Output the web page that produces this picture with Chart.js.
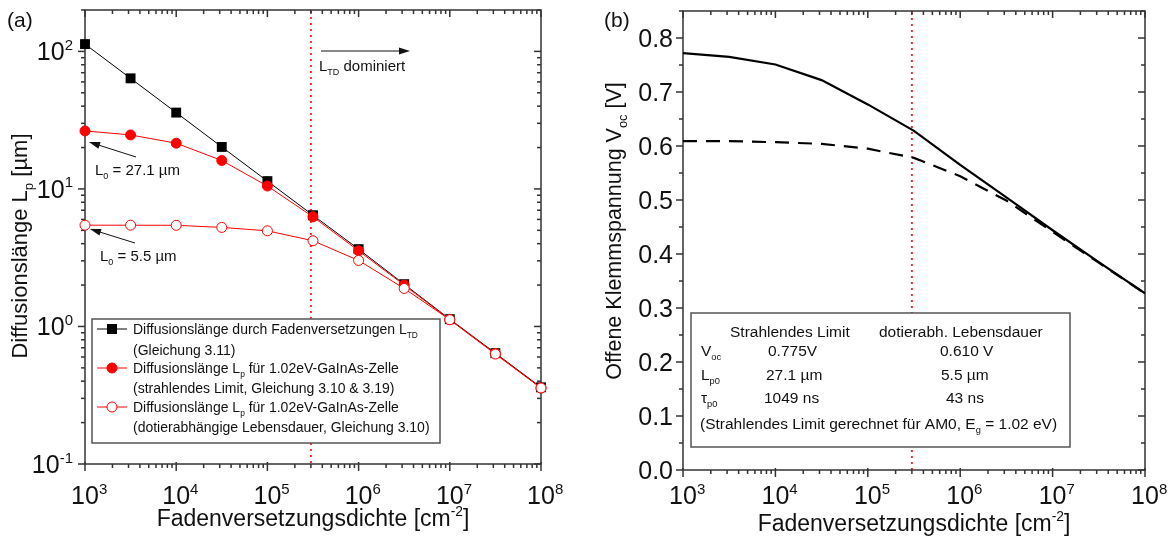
<!DOCTYPE html>
<html>
<head>
<meta charset="utf-8">
<script src="https://cdn.jsdelivr.net/npm/chart.js@4.4.1/dist/chart.umd.min.js"></script>
<style>
  html, body { margin: 0; padding: 0; background: #fff; }
  #wrap { position: relative; width: 1168px; height: 542px; }
  canvas { position: absolute; top: 0; }
  #lp { left: 0; width: 585px; height: 542px; }
  #voc { left: 585px; width: 583px; height: 542px; }
</style>
</head>
<body>
<div id="wrap">
  <canvas id="lp" width="585" height="542"></canvas>
  <canvas id="voc" width="583" height="542"></canvas>
</div>
<script>
// threading dislocation density [cm^-2], half-decade steps
const density = [1e3, 3.16e3, 1e4, 3.16e4, 1e5, 3.16e5, 1e6, 3.16e6, 1e7, 3.16e7, 1e8];

// (a) diffusion lengths [um]
const lengthTD  = [113, 63.7, 35.9, 20.2, 11.4, 6.44, 3.65, 2.03, 1.13, 0.64, 0.361];
const lengthRad = [26.4, 24.7, 21.5, 16.1, 10.5, 6.27, 3.55, 2.0, 1.12, 0.635, 0.357];
const lengthDop = [5.45, 5.45, 5.44, 5.25, 4.96, 4.2, 3.02, 1.89, 1.12, 0.63, 0.357];

// (b) open circuit voltage [V]
const vocRad = [0.772, 0.765, 0.751, 0.722, 0.677, 0.628, 0.565, 0.505, 0.444, 0.385, 0.327];
const vocDop = [0.609, 0.609, 0.607, 0.604, 0.595, 0.578, 0.544, 0.499, 0.441, 0.384, 0.327];

// axes
const xDecades = [1e3, 1e4, 1e5, 1e6, 1e7, 1e8];
const yDecadesA = [0.1, 1, 10, 100];
const yTicksB = [0, 0.1, 0.2, 0.3, 0.4, 0.5, 0.6, 0.7, 0.8];
const tdLimit = 3e5;   // above this L_TD dominates

const FONT = '"Liberation Sans", Arial, Helvetica, sans-serif';
const RED = '#ff0000';

// text with sub/superscript pieces: [[str, 'n'|'sub'|'sup'], ...]
function rich(ctx, parts, x, y, size, align) {
  let w = 0;
  const segs = parts.map(function(p) {
    const s = p[1] === 'n' ? size : size * 0.6;
    ctx.font = s + 'px ' + FONT;
    const sw = ctx.measureText(p[0]).width;
    w += sw;
    return { t: p[0], k: p[1], s: s, w: sw };
  });
  let cx = align === 'center' ? x - w / 2 : align === 'right' ? x - w : x;
  ctx.textAlign = 'left';
  ctx.textBaseline = 'alphabetic';
  segs.forEach(function(g) {
    ctx.font = g.s + 'px ' + FONT;
    const dy = g.k === 'sub' ? size * 0.28 : g.k === 'sup' ? -size * 0.42 : 0;
    ctx.fillText(g.t, cx, y + dy);
    cx += g.w;
  });
  return w;
}

function arrow(ctx, x0, y0, x1, y1) {
  const ang = Math.atan2(y1 - y0, x1 - x0), len = 11, half = 3.5;
  const c = Math.cos(ang), s = Math.sin(ang);
  ctx.beginPath();
  ctx.moveTo(x0, y0);
  ctx.lineTo(x1 - c * len * 0.8, y1 - s * len * 0.8);
  ctx.stroke();
  ctx.beginPath();
  ctx.moveTo(x1, y1);
  ctx.lineTo(x1 - c * len + s * half, y1 - s * len - c * half);
  ctx.lineTo(x1 - c * len - s * half, y1 - s * len + c * half);
  ctx.closePath();
  ctx.fill();
}

function logMinors(lo, hi) {
  const out = [];
  for (let e = Math.round(Math.log10(lo)); Math.pow(10, e) < hi; e++) {
    for (let m = 2; m <= 9; m++) {
      const v = m * Math.pow(10, e);
      if (v <= hi * 1.0001) out.push(v);
    }
  }
  return out;
}

function line(ctx, x0, y0, x1, y1) {
  ctx.beginPath();
  ctx.moveTo(x0, y0);
  ctx.lineTo(x1, y1);
  ctx.stroke();
}

// box, ticks on all four sides (out on left/bottom, in on top/right)
function drawFrame(chart, yMajor, yMinor) {
  const ctx = chart.ctx, a = chart.chartArea;
  const sx = chart.scales.x, sy = chart.scales.y;
  ctx.save();
  ctx.strokeStyle = '#333';
  ctx.lineWidth = 1.5;
  xDecades.forEach(function(v) {
    const px = sx.getPixelForValue(v);
    line(ctx, px, a.bottom - 2, px, a.bottom + 7);
    line(ctx, px, a.top, px, a.top + 7);
  });
  logMinors(1e3, 1e8).forEach(function(v) {
    const px = sx.getPixelForValue(v);
    line(ctx, px, a.bottom, px, a.bottom + 4);
    line(ctx, px, a.top, px, a.top + 4);
  });
  yMajor.forEach(function(v) {
    const py = sy.getPixelForValue(v);
    line(ctx, a.left - 7, py, a.left, py);
    line(ctx, a.right - 7, py, a.right, py);
  });
  yMinor.forEach(function(v) {
    const py = sy.getPixelForValue(v);
    line(ctx, a.left - 4, py, a.left, py);
    line(ctx, a.right - 4, py, a.right, py);
  });
  ctx.strokeRect(a.left, a.top, a.right - a.left, a.bottom - a.top);
  ctx.restore();
}

function drawXLabels(chart, baseline) {
  const ctx = chart.ctx, sx = chart.scales.x;
  ctx.save();
  ctx.fillStyle = '#111';
  xDecades.forEach(function(v) {
    const px = sx.getPixelForValue(v);
    ctx.font = '25px ' + FONT;
    const w10 = ctx.measureText('10').width;
    rich(ctx, [['10', 'n'], [String(Math.round(Math.log10(v))), 'sup']], px - w10 / 2, baseline, 25, 'left');
  });
  ctx.restore();
}

function drawLimit(chart) {
  const ctx = chart.ctx, a = chart.chartArea;
  const px = chart.scales.x.getPixelForValue(tdLimit);
  ctx.save();
  ctx.strokeStyle = '#ff2a2a';
  ctx.lineWidth = 2;
  ctx.setLineDash([2, 4]);
  line(ctx, px, a.top + 1, px, a.bottom);
  ctx.restore();
}

const lengthAxes = {
  id: 'lengthAxes',
  beforeDatasetsDraw: function(chart) {
    const ctx = chart.ctx, a = chart.chartArea, sy = chart.scales.y;
    drawLimit(chart);
    drawFrame(chart, yDecadesA, logMinors(0.1, 200));
    drawXLabels(chart, 504);
    ctx.save();
    ctx.fillStyle = '#111';
    yDecadesA.forEach(function(v) {
      const py = sy.getPixelForValue(v);
      ctx.font = '25px ' + FONT;
      const w10 = ctx.measureText('10').width;
      ctx.font = '15px ' + FONT;
      const exp = String(Math.round(Math.log10(v)));
      const we = ctx.measureText(exp).width;
      rich(ctx, [['10', 'n'], [exp, 'sup']], a.left - 12 - w10 - we, py + 9, 25, 'left');
    });
    rich(ctx, [['Fadenversetzungsdichte [cm', 'n'], ['-2', 'sup'], [']', 'n']], (a.left + a.right) / 2, 526, 23, 'center');
    ctx.translate(27, 246);
    ctx.rotate(-Math.PI / 2);
    rich(ctx, [['Diffusionslänge L', 'n'], ['p', 'sub'], [' [µm]', 'n']], 0, 0, 22, 'center');
    ctx.restore();
    ctx.save();
    ctx.fillStyle = '#111';
    rich(ctx, [['(a)', 'n']], 7, 27, 21, 'left');
    ctx.restore();
  },
  afterDatasetsDraw: function(chart) {
    const ctx = chart.ctx;
    ctx.save();
    ctx.fillStyle = '#111';
    ctx.strokeStyle = '#111';
    ctx.lineWidth = 1;
    // annotations
    arrow(ctx, 321, 51, 410, 51);
    rich(ctx, [['L', 'n'], ['TD', 'sub'], [' dominiert', 'n']], 319, 71, 15, 'left');
    arrow(ctx, 136, 157, 89, 142);
    rich(ctx, [['L', 'n'], ['0', 'sub'], [' = 27.1 µm', 'n']], 95, 175, 15, 'left');
    arrow(ctx, 135, 243, 90, 229);
    rich(ctx, [['L', 'n'], ['0', 'sub'], [' = 5.5 µm', 'n']], 100, 261, 15, 'left');

    // legend
    ctx.fillStyle = '#fff';
    ctx.fillRect(92, 319, 348, 124);
    ctx.strokeStyle = '#555';
    ctx.lineWidth = 1.5;
    ctx.strokeRect(92, 319, 348, 124);
    const rows = [
      { y: 329, color: '#000', mark: 'square' },
      { y: 368, color: RED, mark: 'dot' },
      { y: 407, color: RED, mark: 'ring' }
    ];
    rows.forEach(function(r) {
      ctx.strokeStyle = r.color;
      ctx.lineWidth = 1;
      line(ctx, 97, r.y, 127, r.y);
      ctx.beginPath();
      if (r.mark === 'square') {
        ctx.fillStyle = '#000';
        ctx.fillRect(112 - 5, r.y - 5, 10, 10);
      } else {
        ctx.arc(112, r.y, 5, 0, Math.PI * 2);
        ctx.fillStyle = r.mark === 'dot' ? RED : '#fff';
        ctx.fill();
        ctx.stroke();
      }
    });
    ctx.fillStyle = '#111';
    const tx = 133, fs = 14;
    rich(ctx, [['Diffusionslänge durch Fadenversetzungen L', 'n'], ['TD', 'sub']], tx, 334, fs, 'left');
    rich(ctx, [['(Gleichung 3.11)', 'n']], tx, 355, fs, 'left');
    rich(ctx, [['Diffusionslänge L', 'n'], ['p', 'sub'], [' für 1.02eV-GaInAs-Zelle', 'n']], tx, 373, fs, 'left');
    rich(ctx, [['(strahlendes Limit, Gleichung 3.10 & 3.19)', 'n']], tx, 393, fs, 'left');
    rich(ctx, [['Diffusionslänge L', 'n'], ['p', 'sub'], [' für 1.02eV-GaInAs-Zelle', 'n']], tx, 412, fs, 'left');
    rich(ctx, [['(dotierabhängige Lebensdauer, Gleichung 3.10)', 'n']], tx, 432, fs, 'left');
    ctx.restore();
  }
};

const vocAxes = {
  id: 'vocAxes',
  beforeDatasetsDraw: function(chart) {
    const ctx = chart.ctx, a = chart.chartArea, sy = chart.scales.y;
    const minors = yTicksB.map(function(v) { return v + 0.05; });
    drawLimit(chart);
    drawFrame(chart, yTicksB, minors);
    drawXLabels(chart, 504);
    ctx.save();
    ctx.fillStyle = '#111';
    yTicksB.forEach(function(v) {
      rich(ctx, [[v.toFixed(1), 'n']], a.left - 10, sy.getPixelForValue(v) + 9, 25, 'right');
    });
    rich(ctx, [['Fadenversetzungsdichte [cm', 'n'], ['-2', 'sup'], [']', 'n']], (a.left + a.right) / 2, 531, 23, 'center');
    ctx.translate(36, 231);
    ctx.rotate(-Math.PI / 2);
    rich(ctx, [['Offene Klemmspannung V', 'n'], ['oc', 'sub'], [' [V]', 'n']], 0, 0, 21.5, 'center');
    ctx.restore();
    ctx.save();
    ctx.fillStyle = '#111';
    rich(ctx, [['(b)', 'n']], 19, 27, 21, 'left');
    ctx.restore();
  },
  afterDatasetsDraw: function(chart) {
    const ctx = chart.ctx;
    const ox = 585;   // page offset of this canvas
    ctx.save();
    ctx.fillStyle = '#fff';
    ctx.fillRect(691 - ox, 313, 379, 134);
    ctx.strokeStyle = '#555';
    ctx.lineWidth = 1.5;
    ctx.strokeRect(691 - ox, 313, 379, 134);
    ctx.fillStyle = '#111';
    const fs = 15.5;
    rich(ctx, [['Strahlendes Limit', 'n']], 730 - ox, 337, fs, 'left');
    rich(ctx, [['dotierabh. Lebensdauer', 'n']], 879 - ox, 337, fs, 'left');
    rich(ctx, [['V', 'n'], ['oc', 'sub']], 701 - ox, 356, fs, 'left');
    rich(ctx, [['0.775V', 'n']], 768 - ox, 356, fs, 'left');
    rich(ctx, [['0.610 V', 'n']], 940 - ox, 356, fs, 'left');
    rich(ctx, [['L', 'n'], ['p0', 'sub']], 701 - ox, 380, fs, 'left');
    rich(ctx, [['27.1 µm', 'n']], 766 - ox, 380, fs, 'left');
    rich(ctx, [['5.5 µm', 'n']], 941 - ox, 380, fs, 'left');
    rich(ctx, [['τ', 'n'], ['p0', 'sub']], 701 - ox, 403, fs, 'left');
    rich(ctx, [['1049 ns', 'n']], 764 - ox, 403, fs, 'left');
    rich(ctx, [['43 ns', 'n']], 946 - ox, 403, fs, 'left');
    rich(ctx, [['(Strahlendes Limit gerechnet für AM0, E', 'n'], ['g', 'sub'], [' = 1.02 eV)', 'n']], 700 - ox, 429, fs, 'left');
    ctx.restore();
  }
};

function points(ys) {
  return density.map(function(d, i) { return { x: d, y: ys[i] }; });
}

const baseOptions = {
  responsive: false,
  animation: false,
  devicePixelRatio: 1,
  plugins: { legend: { display: false }, tooltip: { enabled: false } }
};

new Chart(document.getElementById('lp'), {
  type: 'line',
  data: {
    datasets: [
      {
        data: points(lengthDop), borderColor: RED, borderWidth: 1, clip: false,
        pointStyle: 'circle', pointRadius: 5, pointBackgroundColor: '#fff',
        pointBorderColor: RED, pointBorderWidth: 1
      },
      {
        data: points(lengthRad), borderColor: RED, borderWidth: 1, clip: false,
        pointStyle: 'circle', pointRadius: 5, pointBackgroundColor: RED,
        pointBorderColor: RED, pointBorderWidth: 1
      },
      {
        data: points(lengthTD), borderColor: '#000', borderWidth: 1, clip: false,
        pointStyle: 'rect', pointRadius: 7, pointBackgroundColor: '#000',
        pointBorderColor: '#000', pointBorderWidth: 0
      }
    ]
  },
  options: Object.assign({}, baseOptions, {
    layout: { padding: { left: 85, right: 44, top: 10, bottom: 78 } },
    scales: {
      x: { type: 'logarithmic', min: 1e3, max: 1e8, display: false },
      y: { type: 'logarithmic', min: 0.1, max: 200, display: false }
    }
  }),
  plugins: [lengthAxes]
});

new Chart(document.getElementById('voc'), {
  type: 'line',
  data: {
    datasets: [
      {
        data: points(vocRad), borderColor: '#000', borderWidth: 2.2,
        pointRadius: 0, tension: 0
      },
      {
        data: points(vocDop), borderColor: '#000', borderWidth: 2.2, borderDash: [14, 9],
        pointRadius: 0, tension: 0
      }
    ]
  },
  options: Object.assign({}, baseOptions, {
    layout: { padding: { left: 98, right: 23, top: 11, bottom: 72 } },
    scales: {
      x: { type: 'logarithmic', min: 1e3, max: 1e8, display: false },
      y: { type: 'linear', min: 0, max: 0.85, display: false }
    }
  }),
  plugins: [vocAxes]
});
</script>
</body>
</html>
